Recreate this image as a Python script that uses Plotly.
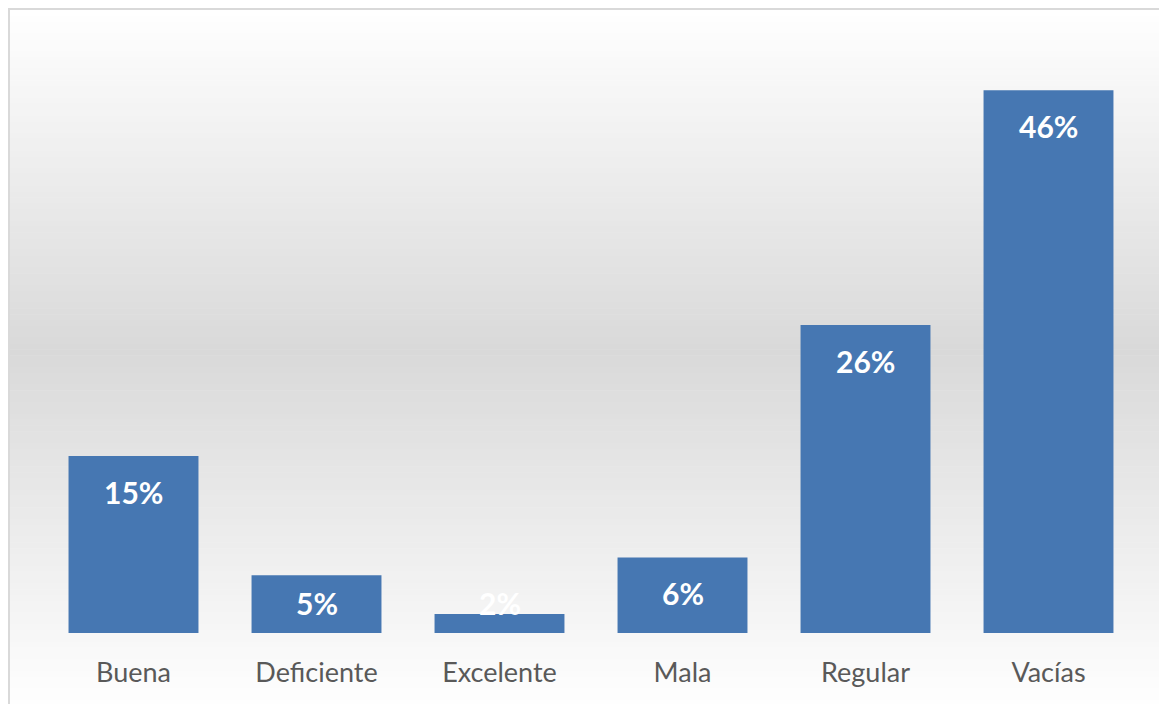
import plotly.graph_objects as go

categories = ["Buena", "Deficiente", "Excelente", "Mala", "Regular", "Vacías"]
values = [0.150, 0.049, 0.016, 0.064, 0.261, 0.460]
labels = ["15%", "5%", "2%", "6%", "26%", "46%"]

W, H = 1167, 704
OFF = 8  # page body margin
PL, PR, PT, PB = 42, 1140, 60, 633
ML, MT = PL - OFF, PT - OFF
MR = (W + OFF) - PR
MB = (H + OFF) - PB
plot_w = PR - PL
plot_h = PB - PT
ymax = 0.4856
px_per_unit = plot_h / ymax

def px_to_paper_x(px):
    return (px - PL) / plot_w

def px_to_paper_y(py):
    return (PB - py) / plot_h

fig = go.Figure()
fig.add_trace(go.Bar(
    x=categories, y=values,
    marker=dict(color="#4677b2", line=dict(width=0)),
    hoverinfo="skip",
))

shapes = []
top, mid, bot = 10, 350, 712
n = 120
for i in range(n):
    y0 = top + (bot - top) * i / n
    y1 = top + (bot - top) * (i + 1) / n
    yc = (y0 + y1) / 2
    if yc <= mid:
        v = 255 - (255 - 217) * (yc - top) / (mid - top)
    else:
        v = 217 + (255 - 217) * (yc - mid) / (bot - mid)
    v = int(round(v))
    col = f"rgb({v},{v},{v})"
    shapes.append(dict(type="rect", xref="paper", yref="paper",
                       x0=px_to_paper_x(10), x1=px_to_paper_x(1190),
                       y0=px_to_paper_y(y0), y1=px_to_paper_y(y1 + 0.5),
                       fillcolor=col, line=dict(width=0), layer="below"))
shapes.append(dict(type="rect", xref="paper", yref="paper",
                   x0=px_to_paper_x(9), x1=px_to_paper_x(1200),
                   y0=px_to_paper_y(9), y1=px_to_paper_y(740),
                   fillcolor="rgba(0,0,0,0)", line=dict(color="#d9d9d9", width=2),
                   layer="below"))

annotations = []
for c, v, t in zip(categories, values, labels):
    top_px = PB - v * px_per_unit
    shift = min(36, (PB - 30) - top_px)
    annotations.append(dict(x=c, y=v, xref="x", yref="y", text=t, showarrow=False,
                            yshift=-shift,
                            font=dict(family="Lato", size=30, color="white", weight="bold")))

fig.update_layout(
    width=W, height=H,
    margin=dict(l=ML, r=MR, t=MT, b=MB),
    paper_bgcolor="white",
    plot_bgcolor="rgba(0,0,0,0)",
    bargap=0.29,
    showlegend=False,
    shapes=shapes,
    annotations=annotations,
    xaxis=dict(showgrid=False, showline=False, zeroline=False, ticks="",
               ticklabelstandoff=21,
               tickfont=dict(family="Lato", size=27, color="#595959")),
    yaxis=dict(range=[0, ymax], visible=False, showgrid=False, zeroline=False),
)

fig.write_html("out.html")
